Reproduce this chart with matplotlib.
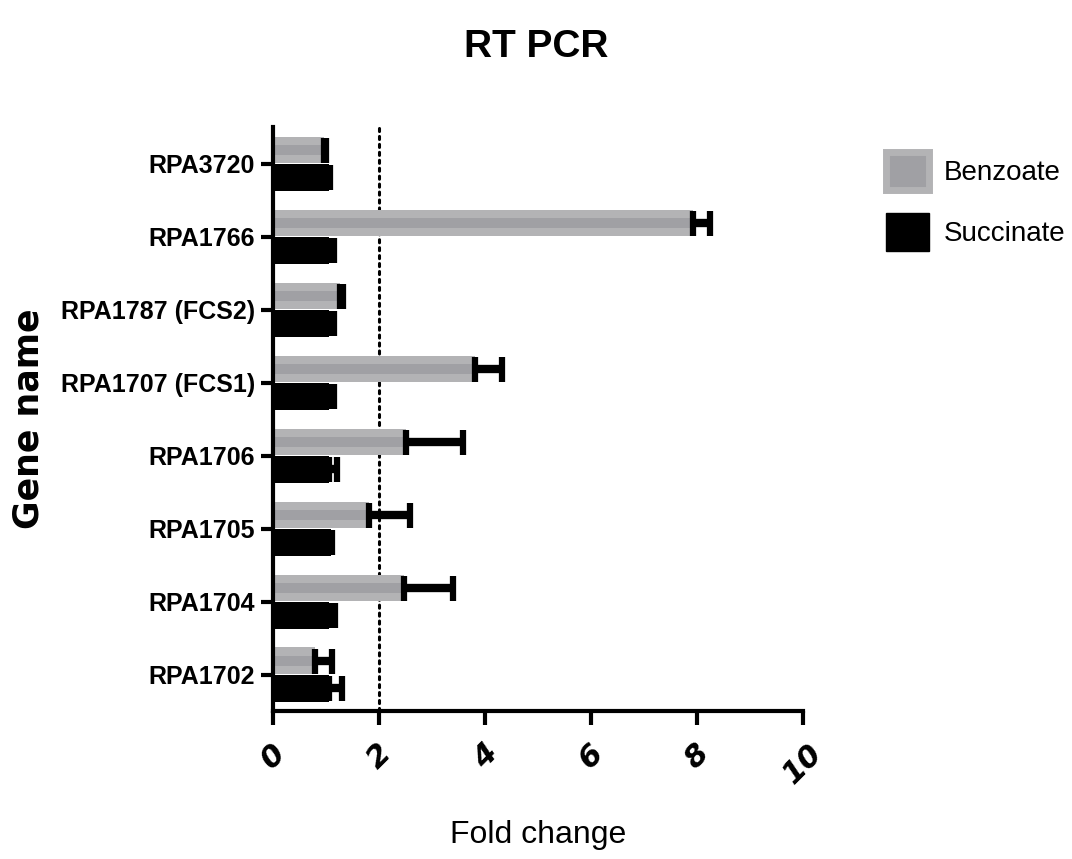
import numpy as np
import matplotlib.pyplot as plt
from matplotlib import font_manager
from matplotlib.patches import Patch

# gene list, bottom to top
genes = ['RPA1702', 'RPA1704', 'RPA1705', 'RPA1706',
         'RPA1707 (FCS1)', 'RPA1787 (FCS2)', 'RPA1766', 'RPA3720']
benzoate = [0.80, 2.48, 1.82, 2.50, 3.82, 1.27, 7.92, 0.97]
benzoate_err = [0.32, 0.91, 0.76, 1.08, 0.50, 0.05, 0.33, 0.03]
succinate = [1.05, 1.06, 1.10, 1.06, 1.06, 1.05, 1.06, 1.05]
succinate_err = [0.25, 0.10, 0.02, 0.15, 0.09, 0.10, 0.09, 0.02]
xticks = [0, 2, 4, 6, 8, 10]

names = {f.name for f in font_manager.fontManager.ttflist}
narrow = 'Liberation Sans Narrow' if 'Liberation Sans Narrow' in names else 'Liberation Sans'

fig = plt.figure(figsize=(10.72, 8.59), dpi=100)
ax = fig.add_axes([0.2547, 0.1723, 0.4944, 0.6797])

y = np.arange(len(genes))
h = 0.36
yb = y + h / 2 + 0.01
ys = y - h / 2 - 0.01

# benzoate: light bar with a darker band through the middle
ax.barh(yb, benzoate, height=h, color='#b3b3b5', zorder=2)
ax.barh(yb, benzoate, height=h * 0.38, color='#a0a0a4', zorder=2)
ax.barh(ys, succinate, height=h, color='black', zorder=2)

err_kw = dict(fmt='none', ecolor='black', elinewidth=6, capsize=9, capthick=4.5, zorder=3)
ax.errorbar(benzoate, yb, xerr=[np.zeros(len(genes)), benzoate_err], **err_kw)
ax.errorbar(succinate, ys, xerr=[np.zeros(len(genes)), succinate_err], **err_kw)

ax.axvline(2, color='black', lw=2.2, linestyle=(0, (1, 1.6)), dash_capstyle='round', zorder=1)

ax.set_xlim(0, 10)
ax.set_ylim(-0.5, 7.5)
ax.set_xticks(xticks)
ax.set_xticklabels([str(t) for t in xticks], rotation=45, fontsize=22,
                   fontweight='bold', fontstyle='italic', ha='center', va='top')
ax.set_yticks(y)
ax.set_yticklabels(genes, fontsize=18, fontweight='bold', family=narrow)

for s in ['top', 'right']:
    ax.spines[s].set_visible(False)
for s in ['left', 'bottom']:
    ax.spines[s].set_linewidth(3)
ax.tick_params(axis='both', width=3, length=9, pad=4)
ax.tick_params(axis='x', length=10, pad=10)

ax.set_xlabel('Fold change', fontsize=23, family=narrow, labelpad=22)
ax.set_ylabel('Gene name', fontsize=25, fontweight='bold')
ax.yaxis.set_label_coords(-0.43, 0.5)
fig.text(0.5, 0.945, 'RT PCR', fontsize=28, fontweight='bold', family=narrow,
         ha='center', va='center')

handles = [Patch(facecolor='#a0a0a4', edgecolor='#b3b3b5', linewidth=5),
           Patch(facecolor='black', edgecolor='black')]
fig.legend(handles, ['Benzoate', 'Succinate'], loc='upper left',
           bbox_to_anchor=(0.803, 0.852), frameon=False,
           prop={'family': narrow, 'size': 20}, handlelength=1.55, handleheight=1.7,
           handletextpad=0.55, labelspacing=0.85)

plt.savefig('out.png', dpi=100)
